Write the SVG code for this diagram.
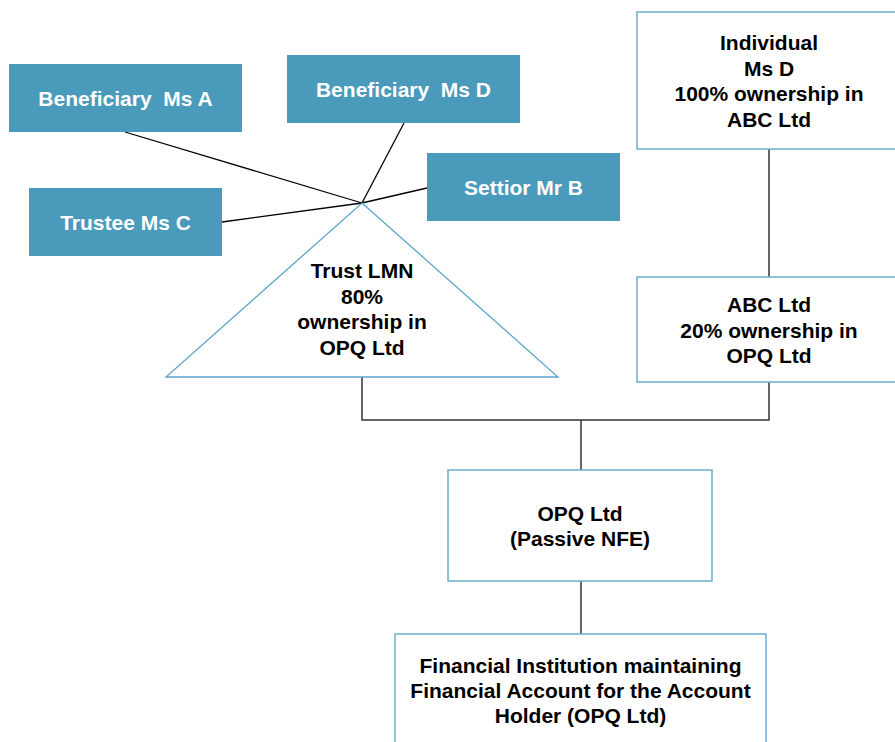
<svg xmlns="http://www.w3.org/2000/svg" width="895" height="742" viewBox="0 0 895 742">
<style>
.blue{fill:#4A9ABB}
.out{fill:#fff;stroke:#6AAFCD;stroke-width:1.5}
.wt{fill:#fff;font-family:"Liberation Sans",Arial,sans-serif;font-weight:bold;font-size:21px;text-anchor:middle;white-space:pre}
.bt{fill:#000;font-family:"Liberation Sans",Arial,sans-serif;font-weight:bold;font-size:21px;text-anchor:middle}
.ln{fill:none;stroke:#000;stroke-width:1.3}
.cn{fill:none;stroke:#333;stroke-width:1.5}
</style>
<rect width="895" height="742" fill="#fff"/>
<g id="connectors">
<line class="ln" x1="125" y1="132" x2="362" y2="203"/>
<line class="ln" x1="404" y1="123" x2="362" y2="203"/>
<line class="ln" x1="427" y1="188" x2="362" y2="203"/>
<line class="ln" x1="222" y1="222" x2="362" y2="203"/>
<line class="cn" x1="769" y1="149" x2="769" y2="277"/>
<polyline class="cn" points="362,377 362,420 769,420 769,382"/>
<line class="cn" x1="581" y1="420" x2="581" y2="470"/>
<line class="cn" x1="581" y1="581" x2="581" y2="634"/>
</g>
<g id="benA"><rect class="blue" x="9" y="64" width="233" height="68"/><text class="wt" x="125.5" y="106">Beneficiary  Ms A</text></g>
<g id="benD"><rect class="blue" x="287" y="55" width="233" height="68"/><text class="wt" x="403.5" y="97">Beneficiary  Ms D</text></g>
<g id="settior"><rect class="blue" x="427" y="153" width="193" height="68"/><text class="wt" x="523.5" y="195">Settior Mr B</text></g>
<g id="trustee"><rect class="blue" x="29" y="188" width="193" height="68"/><text class="wt" x="125.5" y="230">Trustee Ms C</text></g>
<g id="trust"><polygon points="362,203 558,377 166,377" fill="#fff" stroke="#5BA6C9" stroke-width="1.3"/>
<text class="bt" x="362" y="278">Trust LMN</text>
<text class="bt" x="362" y="304">80%</text>
<text class="bt" x="362" y="329">ownership in</text>
<text class="bt" x="362" y="355">OPQ Ltd</text></g>
<g id="individual"><rect class="out" x="637" y="12" width="264" height="137"/>
<text class="bt" x="769" y="50">Individual</text>
<text class="bt" x="769" y="76">Ms D</text>
<text class="bt" x="769" y="101">100% ownership in</text>
<text class="bt" x="769" y="127">ABC Ltd</text></g>
<g id="abc"><rect class="out" x="637" y="277" width="264" height="105"/>
<text class="bt" x="769" y="312">ABC Ltd</text>
<text class="bt" x="769" y="338">20% ownership in</text>
<text class="bt" x="769" y="363">OPQ Ltd</text></g>
<g id="opq"><rect class="out" x="448" y="470" width="264" height="111"/>
<text class="bt" x="580" y="521">OPQ Ltd</text>
<text class="bt" x="580" y="546">(Passive NFE)</text></g>
<g id="fi"><rect class="out" x="395" y="634" width="371" height="120"/>
<text class="bt" x="580.5" y="673">Financial Institution maintaining</text>
<text class="bt" x="580.5" y="698">Financial Account for the Account</text>
<text class="bt" x="580.5" y="723">Holder (OPQ Ltd)</text></g>
</svg>
